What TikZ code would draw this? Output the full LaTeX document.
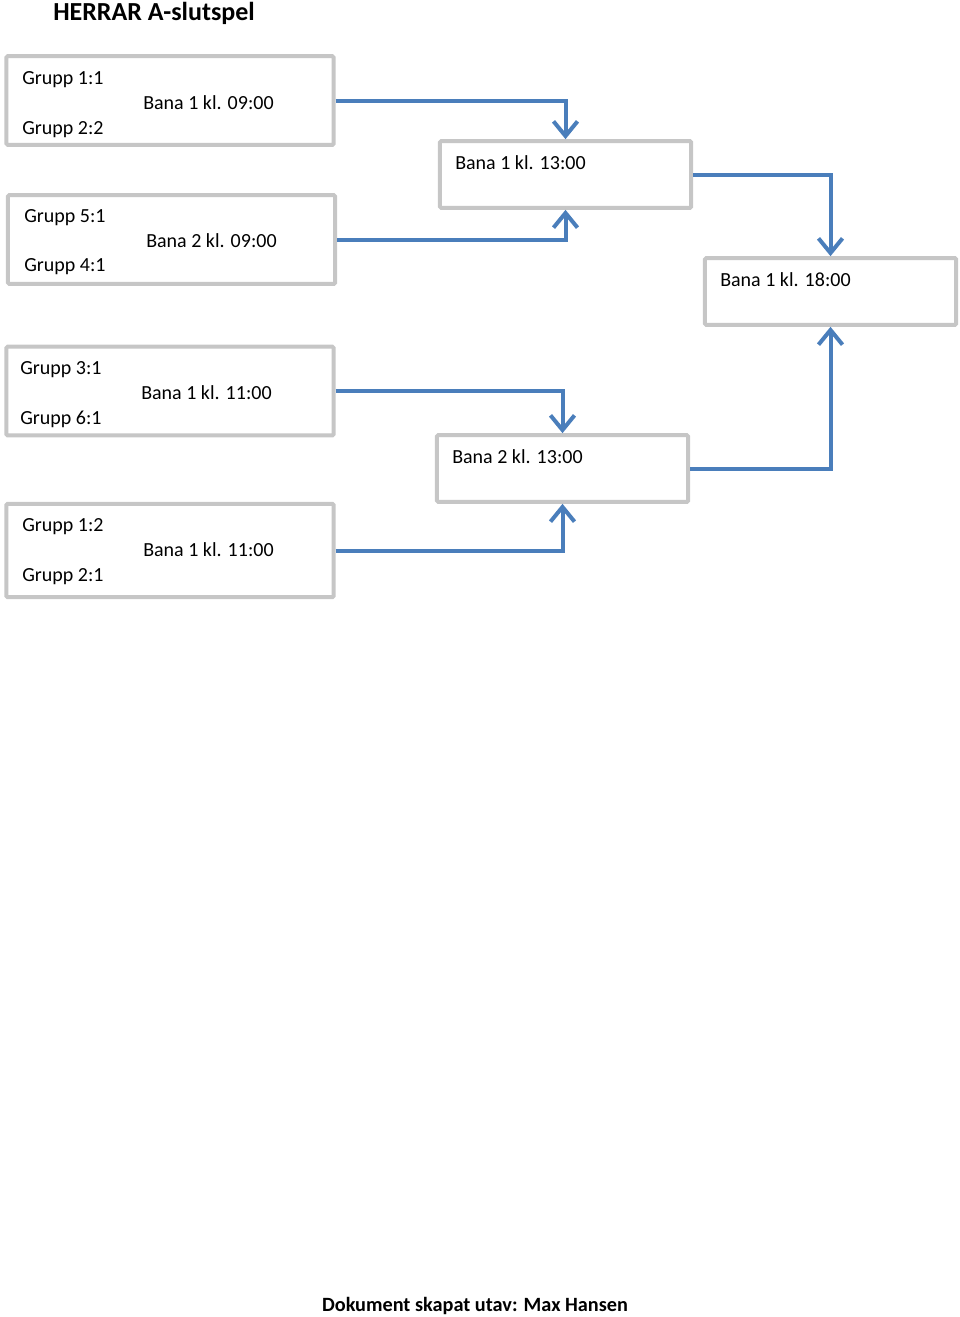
\documentclass[tikz,border=0pt]{standalone}
\usepackage{fontspec}
\setmainfont{Carlito}
\usetikzlibrary{arrows.meta}
\definecolor{boxgray}{HTML}{C6C6C6}
\definecolor{linkblue}{HTML}{4A7EBB}
\tikzset{x=0.75pt, y=-0.75pt,
every node/.style={font=\fontsize{15}{18}\selectfont},
matchbox/.style={ % first round boxes
draw=boxgray, line width=3pt, rounded corners=1pt, fill=white,
minimum width=245.5pt, minimum height=66.5pt},
roundbox/.style={ % later round boxes
draw=boxgray, line width=3pt, rounded corners=1pt, fill=white,
minimum width=188.5pt, minimum height=50pt},
txt/.style={anchor=base west, inner sep=0pt},
link/.style={ % blue connector with open arrow
draw=linkblue, line width=3pt,
-{Straight Barb[length=11pt, width=18pt, line width=3pt]}}}
\begin{document}
\begin{tikzpicture}
\useasboundingbox (0,0) rectangle (960,1317);
\node[txt, font=\fontsize{19.5}{22}\selectfont\bfseries] (title) at (53,20) {HERRAR A-slutspel};
% first round
\node[matchbox] (m1) at (170,100.5) {};
\node[matchbox] (m2) at (171.5,239.5) {};
\node[matchbox] (m3) at (170,391) {};
\node[matchbox, minimum height=70pt] (m4) at (170,550.5) {};
% second round and final
\node[roundbox] (s1) at (565.5,174.5) {};
\node[roundbox] (s2) at (562.5,468.5) {};
\node[roundbox] (fin) at (830.5,291.5) {};
% texts
\node[txt] (g11) at (22,84) {Grupp 1:1};
\node[txt] (g22) at (22,134) {Grupp 2:2};
\node[txt] (t1) at (143,109) {Bana 1 kl. 09:00};
\node[txt] (g51) at (24,222) {Grupp 5:1};
\node[txt] (g41) at (24,271) {Grupp 4:1};
\node[txt] (t2) at (146,247) {Bana 2 kl. 09:00};
\node[txt] (g31) at (20,374) {Grupp 3:1};
\node[txt] (g61) at (20,424) {Grupp 6:1};
\node[txt] (t3) at (141,399) {Bana 1 kl. 11:00};
\node[txt] (g12) at (22,531) {Grupp 1:2};
\node[txt] (g21) at (22,581) {Grupp 2:1};
\node[txt] (t4) at (143,556) {Bana 1 kl. 11:00};
\node[txt] (t5) at (455,169) {Bana 1 kl. 13:00};
\node[txt] (t6) at (452,463) {Bana 2 kl. 13:00};
\node[txt] (t7) at (720,286) {Bana 1 kl. 18:00};
% connectors
\draw[link] (m1.east) -| (s1.north);
\draw[link] (m2.east) -| (s1.south);
\draw[link] (m3.east) -| (s2.north);
\draw[link] (m4.east) -| (s2.south);
\draw[link] (s1.east) -| (fin.north);
\draw[link] (s2.east) -| (fin.south);
\node[font=\fontsize{15.2}{18}\selectfont\bfseries, anchor=base] (foot) at (475,1311) {Dokument skapat utav: Max Hansen};
\end{tikzpicture}
\end{document}
